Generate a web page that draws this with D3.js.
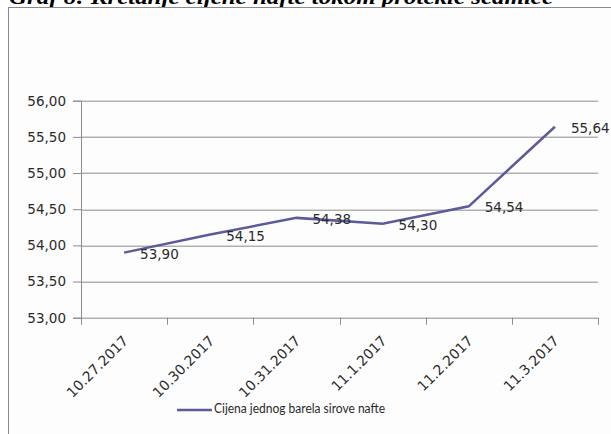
<!DOCTYPE html>
<html>
<head>
<meta charset="utf-8">
<script src="https://cdn.jsdelivr.net/npm/d3@7"></script>
<style>
body { margin: 0; background: #fff; }
svg { display: block; }
</style>
</head>
<body>
<div id="chart"></div>
<script>
const dates = ["10.27.2017", "10.30.2017", "10.31.2017", "11.1.2017", "11.2.2017", "11.3.2017"];
const prices = [53.90, 54.15, 54.38, 54.30, 54.54, 55.64];
const yTicks = [53, 53.5, 54, 54.5, 55, 55.5, 56];
const seriesName = "Cijena jednog barela sirove nafte";
const title = "Graf 8: Kretanje cijene nafte tokom protekle sedmice";

const W = 611, H = 434;
const margin = { top: 100.7, left: 81, right: 13, bottom: 116.3 };
const lineColor = "#5b5b9c";
const font = "'DejaVu Sans', Verdana, sans-serif";
const fmt = d => d3.format(".2f")(d).replace(".", ",");

var svg = d3.select("#chart")
    .append("svg")
    .attr("width", W)
    .attr("height", H);

// title, mostly cut off at the top (as in the source image)
svg.append("text")
    .attr("x", 9)
    .attr("y", 3.5)
    .attr("font-family", "'Liberation Serif', 'Times New Roman', serif")
    .attr("font-weight", "bold")
    .attr("font-style", "italic")
    .attr("font-size", 20)
    .attr("textLength", 544)
    .attr("lengthAdjust", "spacingAndGlyphs")
    .attr("fill", "#000")
    .text(title);

// chart frame
svg.append("rect")
    .attr("x", 8.5)
    .attr("y", 7.5)
    .attr("width", W)
    .attr("height", H)
    .attr("fill", "#fdfdfd")
    .attr("stroke", "#8a8a8a")
    .attr("stroke-width", 1);

const pw = W - margin.left - margin.right;
const ph = H - margin.top - margin.bottom;

const x = d3.scaleBand().domain(dates).range([0, pw]);
const y = d3.scaleLinear().domain([53, 56]).range([ph, 0]);

const g = svg.append("g").attr("transform", `translate(${margin.left},${margin.top})`);

// gridlines
g.append("g")
    .selectAll("line")
    .data(yTicks.slice(1))
    .join("line")
    .attr("x1", 0)
    .attr("x2", pw)
    .attr("y1", d => Math.round(y(d)) + 0.5)
    .attr("y2", d => Math.round(y(d)) + 0.5)
    .attr("stroke", "#8c8c8c");

// y axis
const yAxis = g.append("g")
    .call(d3.axisLeft(y).tickValues(yTicks).tickFormat(fmt).tickSize(8).tickPadding(7));
yAxis.select(".domain").attr("stroke", "#8c8c8c");
yAxis.selectAll(".tick line").attr("stroke", "#8c8c8c");
yAxis.selectAll("text")
    .attr("font-family", font)
    .attr("font-size", 13.5)
    .attr("fill", "#2a2a2a");

// x axis: ticks on band edges
const xAxis = g.append("g").attr("transform", `translate(0,${ph})`);
xAxis.append("line")
    .attr("x1", 0).attr("x2", pw)
    .attr("y1", 0.5).attr("y2", 0.5)
    .attr("stroke", "#8c8c8c");
xAxis.selectAll(".xt")
    .data(dates.concat(["end"]))
    .join("line")
    .attr("class", "xt")
    .attr("x1", (d, i) => Math.round(i * x.step()) + 0.5)
    .attr("x2", (d, i) => Math.round(i * x.step()) + 0.5)
    .attr("y1", 0)
    .attr("y2", 7)
    .attr("stroke", "#8c8c8c");
xAxis.selectAll(".xl")
    .data(dates)
    .join("text")
    .attr("class", "xl")
    .attr("transform", d => `translate(${x(d) + x.bandwidth() / 2 + 5},${24}) rotate(-45)`)
    .attr("text-anchor", "end")
    .attr("font-family", font)
    .attr("font-size", 14)
    .attr("fill", "#2a2a2a")
    .text(d => d);

// line
const line = d3.line()
    .x((d, i) => x(dates[i]) + x.bandwidth() / 2)
    .y(d => y(d));

g.append("path")
    .datum(prices)
    .attr("d", line)
    .attr("fill", "none")
    .attr("stroke", lineColor)
    .attr("stroke-width", 2.5);

// data labels
g.selectAll(".lbl")
    .data(prices)
    .join("text")
    .attr("class", "lbl")
    .attr("x", (d, i) => x(dates[i]) + x.bandwidth() / 2 + 16)
    .attr("y", d => y(d) + 2)
    .attr("dominant-baseline", "middle")
    .attr("font-family", font)
    .attr("font-size", 13.5)
    .attr("fill", "#2a2a2a")
    .text(fmt);

// legend
const lg = svg.append("g").attr("transform", "translate(177,410)");
lg.append("line")
    .attr("x1", 0).attr("x2", 35)
    .attr("y1", 0).attr("y2", 0)
    .attr("stroke", lineColor)
    .attr("stroke-width", 2.5);
lg.append("text")
    .attr("x", 37)
    .attr("y", 0)
    .attr("dominant-baseline", "middle")
    .attr("font-family", "Lato, 'DejaVu Sans', sans-serif")
    .attr("font-size", 13.5)
    .attr("textLength", 171)
    .attr("lengthAdjust", "spacingAndGlyphs")
    .attr("fill", "#2a2a2a")
    .text(seriesName);
</script>
</body>
</html>
